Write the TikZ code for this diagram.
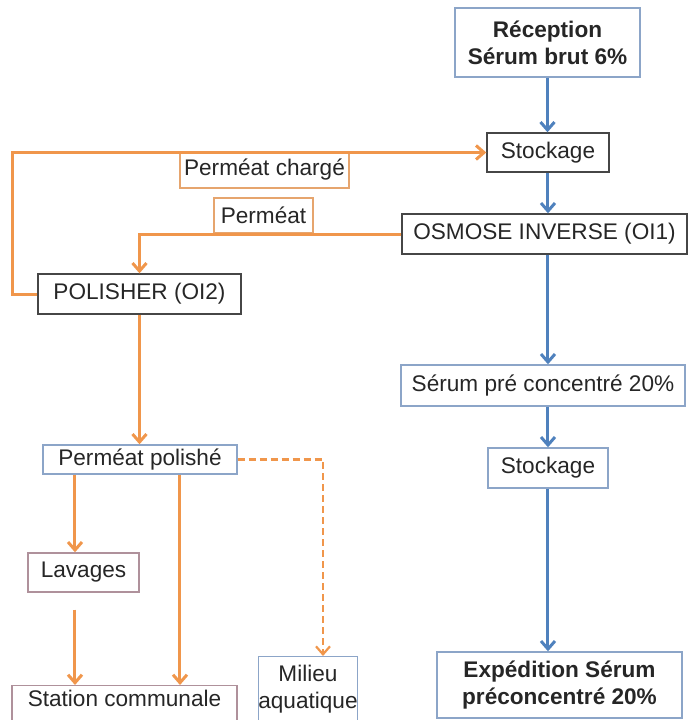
\documentclass[tikz,border=0pt]{standalone}
\usepackage{fontspec}
\setmainfont{Liberation Sans}
\usetikzlibrary{arrows.meta}

\definecolor{flowblue}{RGB}{79,129,189}
\definecolor{floworange}{RGB}{240,150,75}
\definecolor{edgeblue}{RGB}{140,165,200}
\definecolor{edgedark}{RGB}{70,70,70}
\definecolor{edgeorange}{RGB}{230,165,110}
\definecolor{edgerose}{RGB}{175,145,155}

\tikzset{
  box/.style={draw, line width=0.7pt, inner sep=0pt, align=center, text=black!85,
    font=\fontsize{11.3}{13.5}\selectfont},
  heavy/.style={font=\fontsize{11.3}{13.5}\selectfont\bfseries},
  bluebox/.style={box, draw=edgeblue},
  darkbox/.style={box, draw=edgedark},
  orangebox/.style={box, draw=edgeorange},
  rosebox/.style={box, draw=edgerose},
  bluearrow/.style={draw=flowblue, line width=1.5pt, -{Straight Barb[length=4pt,width=7pt]}},
  orangearrow/.style={draw=floworange, line width=1.5pt, -{Straight Barb[length=4pt,width=7pt]}},
}

\begin{document}
\begin{tikzpicture}[x=0.5pt,y=-0.5pt]
\useasboundingbox (0,0) rectangle (689,720);

% right column
\node[bluebox, heavy, minimum width=92.5pt, minimum height=34.5pt] (recep) at (547.5,42.5) {Réception\\Sérum brut 6\%};
\node[darkbox, minimum width=61pt, minimum height=19.5pt] (stock1) at (548,152.5) {Stockage};
\node[darkbox, minimum width=142.5pt, minimum height=20pt] (osmose) at (544.5,234) {OSMOSE INVERSE (OI1)};
\node[bluebox, minimum width=142pt, minimum height=20.5pt] (serpre) at (543,385.5) {Sérum pré concentré 20\%};
\node[bluebox, minimum width=60pt, minimum height=20pt] (stock2) at (548,468) {Stockage};
\node[bluebox, heavy, minimum width=122.5pt, minimum height=33pt] (exped) at (559.5,685) {Expédition Sérum\\préconcentré 20\%};

% left column
\node[orangebox, minimum width=84.5pt, minimum height=18pt] (lblcharge) at (264.5,170) {Perméat chargé};
\node[orangebox, minimum width=49.5pt, minimum height=17.5pt] (lblperm) at (263.5,215.5) {Perméat};
\node[darkbox, minimum width=101.5pt, minimum height=20pt] (polisher) at (139.5,294) {POLISHER (OI2)};
\node[bluebox, minimum width=97pt, minimum height=14.5pt] (polished) at (140,459.5) {Perméat polishé};
\node[rosebox, minimum width=55.5pt, minimum height=19.5pt] (lavages) at (83.5,572.5) {Lavages};
\node[rosebox, anchor=north, minimum width=112.5pt, inner ysep=2pt, text depth=14pt] (station) at (124.5,685) {Station communale};
\node[bluebox, anchor=north, minimum width=47.5pt, inner ysep=4pt, text depth=12pt] (milieu) at (308,656) {Milieu\\aquatique};

\coordinate (lavx) at (75,0);
\coordinate (stax) at (180,0);
\coordinate (milx) at (323,0);

% serum line
\draw[bluearrow] (recep.south) -- (recep.south |- stock1.north);
\draw[bluearrow] (stock1.south) -- (stock1.south |- osmose.north);
\draw[bluearrow] (stock1.south |- osmose.south) -- (stock1.south |- serpre.north);
\draw[bluearrow] (stock2.north |- serpre.south) -- (stock2.north);
\draw[bluearrow] (stock2.south) -- (stock2.south |- exped.north);

% permeate line
\draw[orangearrow] (polisher.west) -- ++(-25,0) |- (stock1.west);
\draw[orangearrow] (osmose.west) -| (polisher.north);
\draw[orangearrow] (polisher.south) -- (polisher.south |- polished.north);
\draw[orangearrow] (lavx |- polished.south) -- (lavx |- lavages.north);
\draw[orangearrow] ([yshift=-8.5pt]lavx |- lavages.south) -- (lavx |- station.north);
\draw[orangearrow] (stax |- polished.south) -- (stax |- station.north);
\draw[orangearrow, line width=1.1pt, dash pattern=on 3.5pt off 2pt] (polished.east) -| (milx |- milieu.north);
\end{tikzpicture}
\end{document}
